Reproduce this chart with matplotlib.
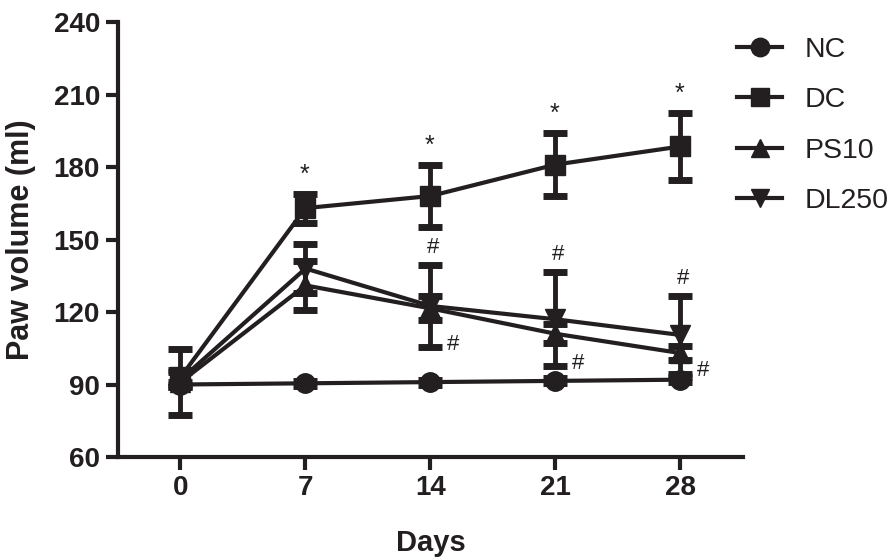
import matplotlib
matplotlib.use("Agg")
import matplotlib.pyplot as plt
from matplotlib import font_manager

days = [0, 7, 14, 21, 28]

nc_mean = [90, 90.5, 91, 91.5, 92]
nc_err = [1, 1, 1, 1, 1]

dc_mean = [93, 163, 168, 181, 188.5]
dc_err = [3, 6, 13, 13, 14]

ps10_mean = [91, 131, 121.5, 111, 103]
ps10_err = [13.7, 10, 5, 4, 3]

dl250_mean = [92, 138, 122.5, 117, 110.5]
dl250_err = [3, 10, 17, 19.5, 16]

series = [
    ("NC", nc_mean, nc_err, "o"),
    ("DC", dc_mean, dc_err, "s"),
    ("PS10", ps10_mean, ps10_err, "^"),
    ("DL250", dl250_mean, dl250_err, "v"),
]

INK = "#231f20"

names = {f.name for f in font_manager.fontManager.ttflist}
FONT = "Liberation Sans" if "Liberation Sans" in names else "DejaVu Sans"
plt.rcParams["font.family"] = [FONT, "DejaVu Sans"]

fig = plt.figure(figsize=(8.96, 5.6), dpi=100)
ax = fig.add_axes([0.1317, 0.1839, 0.6975, 0.7768])

handles = []
for name, mean, err, marker in series:
    ax.errorbar(
        days, mean, yerr=err,
        color=INK, ecolor=INK, fmt="none",
        elinewidth=3.5, capsize=8.5, capthick=5, zorder=3,
    )
    (h,) = ax.plot(days, mean, color=INK, linewidth=3,
                   marker=marker, markersize=14, zorder=4, label=name)
    handles.append(h)

# significance marks
for d, m, e in zip(days[1:], dc_mean[1:], dc_err[1:]):
    ax.annotate("*", (d, m + e), xytext=(-1, 5), textcoords="offset points",
                ha="center", va="bottom", fontsize=18, color=INK)
for d, m, e in zip(days[2:], dl250_mean[2:], dl250_err[2:]):
    ax.annotate("#", (d, m + e), xytext=(2, 5), textcoords="offset points",
                ha="center", va="bottom", fontsize=16, color=INK)
for d, m, e in zip(days[2:], dl250_mean[2:], dl250_err[2:]):
    ax.annotate("#", (d, m - e), xytext=(16, 2), textcoords="offset points",
                ha="center", va="center", fontsize=16, color=INK)

ax.set_xlim(-3.5, 31.5)
ax.set_ylim(60, 240)
ax.set_xticks(days)
ax.set_yticks(range(60, 241, 30))
for side in ("top", "right"):
    ax.spines[side].set_visible(False)
for side in ("left", "bottom"):
    ax.spines[side].set_linewidth(3)
    ax.spines[side].set_color(INK)
ax.tick_params(width=3, length=9, color=INK, labelsize=20, pad=4)
for lab in ax.get_xticklabels() + ax.get_yticklabels():
    lab.set_fontweight("bold")
    lab.set_color(INK)

ax.set_xlabel("Days", fontsize=21, fontweight="bold", color=INK, labelpad=20)
ax.set_ylabel("Paw volume (ml)", fontsize=22, fontweight="bold", color=INK, labelpad=13)

fig.legend(handles=handles, loc="upper left", bbox_to_anchor=(0.8, 0.97),
           frameon=False, fontsize=20.5, handlelength=1.6, handletextpad=0.8,
           labelspacing=0.86, markerscale=0.95, labelcolor=INK,
           borderpad=0.2)

fig.savefig("out.png", dpi=100)
